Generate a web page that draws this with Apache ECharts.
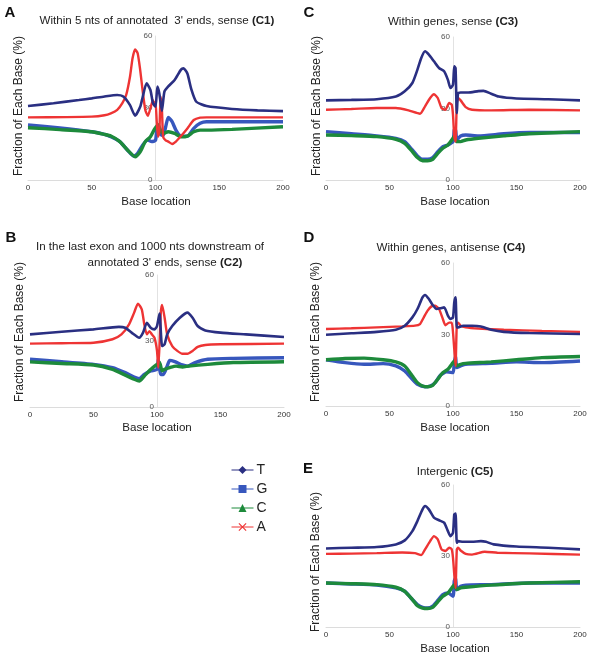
<!DOCTYPE html>
<html><head><meta charset="utf-8">
<script src="https://cdn.jsdelivr.net/npm/echarts@6/dist/echarts.min.js"></script>
<style>html,body{margin:0;padding:0;background:#fff}#c{width:600px;height:658px}</style>
</head><body><div id="c"></div>
<script>
// ---------- data ----------
const xTickValues = [0, 50, 100, 150, 200];
const yTickValues = [0, 30, 60];
const seriesNames = ['T', 'G', 'C', 'A'];

// C1: Within 5 nts of annotated 3' ends, sense
const T_C1 = [[0,30.8],[20,32],[40,33.3],[50,34],[60,34.8],[70,35.4],[75,34.7],[80,31.2],[84,26.8],[88,30.5],[90,34.7],[93,40.3],[96,37.5],[98,32],[100,30.5],[101.5,38.9],[103,36],[105,28.8],[107,36.8],[110,39],[115,41.7],[120,46],[122,46.5],[125,44.4],[128,38],[132,32.6],[140,30.8],[160,29.6],[180,29],[200,28.7]];
const G_C1 = [[0,22.9],[25,21.7],[50,20.1],[60,19],[65,18],[72,16],[78,12.5],[83,10],[86,11.1],[90,14.6],[94,16.7],[97,16],[100,16.5],[101,20.8],[102,21],[104,19],[106,18.5],[108,22.2],[110,26.1],[113,24.3],[116,20.8],[120,18.3],[125,18.3],[130,21.5],[135,23.6],[140,24.3],[170,24.3],[200,24.3]];
const C_C1 = [[0,21.8],[25,21],[50,20.1],[60,19],[65,18.3],[72,16],[78,12.5],[84,9.7],[88,11.8],[92,16],[96,18],[99,21],[101,22.5],[102,23],[104,20.8],[106,19.4],[110,20.1],[115,19.4],[120,18],[125,18.3],[130,20.1],[135,20.8],[140,20.8],[160,21.1],[200,22.2]];
const A_C1 = [[0,26.1],[30,26.2],[50,26.4],[60,27],[65,27.8],[70,29.2],[74,32],[77,35.4],[80,43],[82,50.7],[84,54.4],[86,52.8],[88,45.8],[90,36.8],[92,29.2],[94,26.7],[96,29.9],[98,33.3],[99,31],[100,32.5],[101,24],[102,18],[103,20],[104,34.7],[105,30],[106,18],[108,16.5],[110,16],[113,15],[116,16],[120,18.3],[125,21.5],[130,25],[135,26],[140,26.1],[200,26.1]];

// C2: In the last exon and 1000 nts downstream of annotated 3' ends, sense
const T_C2 = [[0,33],[25,34.2],[50,35.3],[70,36.4],[75,36],[80,33.8],[86,31.5],[89,33.8],[92,38.3],[95,36],[98,35.3],[100,36.8],[102,42.5],[104,27.7],[106,28.5],[108,33],[112,36.8],[118,40.6],[124,42.9],[128,40.6],[132,36.8],[138,34.8],[150,33.8],[170,33],[200,31.8]];
const G_C2 = [[0,21.7],[25,20.6],[50,19.4],[65,17.9],[75,15.6],[82,13.6],[86,12.9],[90,14.8],[95,16.4],[100,17.1],[101,21.7],[103,14.8],[105,14.8],[108,18.6],[110,21.2],[114,20.6],[120,19.1],[124,18.6],[130,20.2],[140,21.7],[160,22.1],[200,22.4]];
const C_C2 = [[0,20.5],[25,19.8],[50,19.1],[65,17.1],[75,14.5],[82,12.6],[86,11.8],[90,14.1],[95,17.1],[100,19.4],[102,20.2],[104,16.4],[106,17.1],[110,17.9],[115,18.6],[120,18.2],[125,18.6],[140,19.4],[160,20.2],[200,20.6]];
const A_C2 = [[0,28.8],[25,29],[50,29.2],[65,30.8],[72,33],[78,37.6],[82,42.9],[85,47],[88,44.4],[90,37.6],[92,33],[94,34.5],[96,33],[98,31.5],[100,25.5],[101,17.9],[102,28.5],[103,42.9],[104,46.4],[106,40.6],[108,33],[112,27.7],[116,25.5],[120,24.2],[124,24.2],[128,25.5],[132,27.3],[138,28.2],[150,28.5],[200,28.8]];

// C3: Within genes, sense
const T_C3 = [[0,33.4],[20,33.6],[40,33.9],[55,35],[62,37.2],[68,40.7],[72,46.3],[75,51.2],[78,54],[81,52.6],[85,49.8],[89,47],[93,45.6],[96,42],[98,38.6],[100,40],[101,47.7],[102,47],[103,28],[104,36.5],[106,36.7],[112,36.7],[120,37.3],[124,37.4],[130,36.2],[136,35],[150,34.2],[175,33.9],[200,33.4]];
const G_C3 = [[0,20.3],[20,19.4],[40,18.5],[55,17.5],[62,16.1],[68,12.6],[72,10.1],[76,8.7],[80,8.7],[84,9.4],[88,11.9],[92,14],[96,14.7],[100,16.1],[101,21],[102,21.3],[103,16.8],[106,18.5],[110,18.9],[120,18.5],[140,19.4],[160,19.9],[200,19.9]];
const C_C3 = [[0,18.9],[20,18.6],[40,18.2],[55,17.1],[62,15.4],[68,11.9],[72,9.4],[76,8.1],[80,8.1],[84,8.7],[88,11.2],[92,13.3],[96,14.7],[100,17.5],[101,18.5],[103,16.1],[106,16.1],[110,16.8],[120,17.5],[140,18.5],[160,19.4],[200,20.3]];
const A_C3 = [[0,29.5],[20,29.8],[40,30.2],[55,30.2],[65,29.2],[74,27.8],[78,30.9],[82,34.4],[85,36],[88,34.4],[91,30.2],[94,29.5],[97,32.3],[99,31.6],[100,27.3],[101,18.2],[102,16.1],[103,32.3],[104,34.4],[106,33.4],[110,30.6],[115,29.5],[130,29.2],[160,29.5],[200,29.2]];

// C4: Within genes, antisense
const T_C4 = [[0,29.9],[20,30.5],[40,31.1],[55,32],[62,33.7],[68,37.2],[72,40.7],[76,45.6],[78,46.6],[81,44.9],[84,42.4],[87,40.7],[90,41],[93,41.4],[96,37.9],[98,36.5],[100,37.2],[101,43.5],[102,45.6],[103,33],[104,33],[108,33.7],[115,33.7],[122,33.4],[130,32],[140,31.1],[160,30.6],[200,30.2]];
const G_C4 = [[0,19.4],[15,18.2],[30,17.5],[45,17.8],[55,16.8],[62,14.7],[68,11.2],[72,9.1],[78,8.1],[82,8.4],[86,9.8],[90,12.9],[95,14.3],[100,14],[101,18.2],[102,21],[103,16.1],[106,16.8],[110,17.5],[130,17.9],[150,18.5],[170,18.2],[200,18.9]];
const C_C4 = [[0,19.4],[15,19.9],[30,20.1],[45,19.4],[55,18.5],[62,16.8],[68,12.6],[72,9.8],[76,8.4],[80,8.1],[84,8.7],[88,11.2],[92,14],[96,15.4],[100,18.2],[101,18.9],[103,16.8],[106,17.5],[110,17.9],[130,18.5],[150,19.4],[170,20.3],[200,20.8]];
const A_C4 = [[0,32.3],[20,32.6],[40,33],[60,33.4],[70,33.7],[74,34.4],[77,37.2],[80,40],[83,41.8],[86,42.1],[89,40.7],[92,36.5],[94,33.9],[97,35],[99,35],[100,30.9],[101,23.8],[102,16.8],[103,34.4],[104,35],[106,33.7],[110,33],[120,32.5],[140,32],[170,31.5],[200,31.1]];

// C5: Intergenic
const T_C5 = [[0,33.2],[20,33.5],[40,33.8],[55,34.9],[62,36.6],[68,40.5],[72,44.8],[76,49.7],[78,51.1],[81,49.7],[85,46.2],[89,45.1],[93,44.1],[96,40.5],[98,38.4],[100,39.8],[101,47.6],[102,47.9],[103,35.6],[104,36.3],[108,36],[115,36],[122,36.3],[126,36],[132,34.9],[150,34],[175,33.5],[200,32.8]];
const G_C5 = [[0,18.6],[20,18.2],[40,17.7],[55,16.5],[62,15.1],[68,11.6],[72,9.5],[76,8.3],[80,8],[84,8.8],[88,11.2],[92,13.7],[96,14.4],[100,13],[101,19.4],[102,20.8],[103,15.8],[106,17.2],[110,17.7],[130,17.9],[160,18.6],[200,18.6]];
const C_C5 = [[0,18.6],[20,18.3],[40,17.9],[55,16.8],[62,15.1],[68,11.6],[72,9],[76,8],[80,7.8],[84,8.3],[88,10.6],[92,13],[96,14.4],[100,17.2],[101,17.9],[103,15.8],[106,16.5],[110,16.8],[130,17.7],[160,18.6],[200,19.1]];
const A_C5 = [[0,30.9],[20,31],[40,31.2],[60,31.5],[70,31.2],[75,30.4],[78,32.8],[82,36.3],[85,38.4],[88,37],[91,32.8],[94,32.1],[97,33.5],[99,32.8],[100,29.2],[101,22.2],[102,16.5],[103,32.8],[104,33.5],[106,32.3],[110,30.9],[115,30.6],[125,31.8],[135,31.4],[160,31.1],[200,30.6]];

// ---------- layout / style ----------
const FONT = 'Liberation Sans, Arial, sans-serif';
const colors = { T: '#2a2f82', G: '#3757bd', C: '#1d8a3b', A: '#ee3434' };
const symbols = {
  T: 'diamond', G: 'rect', C: 'triangle',
  A: 'path://M1,0L5,4L9,0L10,1L6,5L10,9L9,10L5,6L1,10L0,9L4,5L0,1Z'
};
const widths = { T: 2.6, G: 3.4, C: 3.4, A: 2.4 };

const panels = [
  { grid: { left: 28, top: 36, width: 255, height: 144 }, data: [T_C1, G_C1, C_C1, A_C1] },
  { grid: { left: 30, top: 275, width: 254, height: 132 }, data: [T_C2, G_C2, C_C2, A_C2] },
  { grid: { left: 326, top: 37, width: 254, height: 143 }, data: [T_C3, G_C3, C_C3, A_C3] },
  { grid: { left: 326, top: 263, width: 254, height: 143 }, data: [T_C4, G_C4, C_C4, A_C4] },
  { grid: { left: 326, top: 485, width: 254, height: 142 }, data: [T_C5, G_C5, C_C5, A_C5] }
];

const grids = [], xAxes = [], yAxes = [], series = [];
panels.forEach((p, i) => {
  grids.push(Object.assign({ containLabel: false, outerBoundsMode: 'none' }, p.grid));
  xAxes.push({
    gridIndex: i, type: 'value', min: xTickValues[0], max: xTickValues[xTickValues.length - 1],
    interval: xTickValues[1] - xTickValues[0],
    axisLine: { show: true, onZero: false, lineStyle: { color: '#dcdcdc', width: 1 } },
    axisTick: { show: false }, splitLine: { show: false },
    axisLabel: { fontSize: 8, color: '#333', margin: 4, fontFamily: FONT }
  });
  yAxes.push({
    gridIndex: i, type: 'value', min: yTickValues[0], max: yTickValues[yTickValues.length - 1],
    interval: yTickValues[1] - yTickValues[0],
    offset: -p.grid.width / 2,
    axisLine: { show: true, onZero: false, lineStyle: { color: '#e2e2e2', width: 1 } },
    axisTick: { show: false }, splitLine: { show: false },
    axisLabel: { fontSize: 8, color: '#555', margin: 3, fontFamily: FONT }
  });
  seriesNames.forEach((n, k) => {
    series.push({
      name: n, type: 'line', xAxisIndex: i, yAxisIndex: i,
      data: p.data[k], showSymbol: false, symbol: symbols[n], smooth: 0.2,
      lineStyle: { color: colors[n], width: widths[n] },
      itemStyle: { color: colors[n] },
      z: k === 0 ? 3 : 2
    });
  });
});

function txt(x, y, text, opts) {
  return Object.assign({
    type: 'text', x: x, y: y,
    style: Object.assign({ text: text, fontFamily: FONT, fontSize: 11.6, fill: '#222', align: 'center', verticalAlign: 'middle' }, opts && opts.style || {})
  }, opts && opts.el || {});
}
const bold = { b: { fontWeight: 'bold', fontSize: 11.6, fontFamily: FONT, fill: '#222' } };
const letterStyle = { style: { fontSize: 15, fontWeight: 'bold', fill: '#111' } };
const yNameOpts = { style: { fontSize: 12, fill: '#222' }, el: { rotation: Math.PI / 2 } };
const xNameOpts = { style: { fontSize: 11.6, fill: '#222' } };

const graphics = [
  txt(10, 13, 'A', letterStyle), txt(11, 238, 'B', letterStyle), txt(309, 13, 'C', letterStyle),
  txt(309, 238, 'D', letterStyle), txt(308, 469, 'E', letterStyle),
  txt(157, 21, "Within 5 nts of annotated  3' ends, sense {b|(C1)}", { style: { rich: bold } }),
  txt(150, 247, 'In the last exon and 1000 nts downstream of'),
  txt(165, 263, "annotated 3' ends, sense {b|(C2)}", { style: { rich: bold } }),
  txt(453, 22, 'Within genes, sense {b|(C3)}', { style: { rich: bold } }),
  txt(451, 248, 'Within genes, antisense {b|(C4)}', { style: { rich: bold } }),
  txt(455, 472, 'Intergenic {b|(C5)}', { style: { rich: bold } }),
  txt(19, 106, 'Fraction of Each Base (%)', yNameOpts),
  txt(20, 332, 'Fraction of Each Base (%)', yNameOpts),
  txt(317, 106, 'Fraction of Each Base (%)', yNameOpts),
  txt(316, 332, 'Fraction of Each Base (%)', yNameOpts),
  txt(316, 562, 'Fraction of Each Base (%)', yNameOpts),
  txt(156, 202, 'Base location', xNameOpts),
  txt(157, 428, 'Base location', xNameOpts),
  txt(455, 202, 'Base location', xNameOpts),
  txt(455, 428, 'Base location', xNameOpts),
  txt(455, 649, 'Base location', xNameOpts)
];

const chart = echarts.init(document.getElementById('c'), null, { renderer: 'canvas' });
chart.setOption({
  animation: false,
  backgroundColor: '#fff',
  grid: grids, xAxis: xAxes, yAxis: yAxes, series: series,
  legend: {
    data: seriesNames, orient: 'vertical', left: 226, top: 458,
    itemWidth: 22, itemHeight: 10, itemGap: 5,
    lineStyle: { width: 1 },
    textStyle: { fontSize: 14, color: '#222', fontFamily: FONT, padding: [0, 0, 0, -2] },
    selectedMode: false
  },
  graphic: graphics
});
</script>
</body></html>
